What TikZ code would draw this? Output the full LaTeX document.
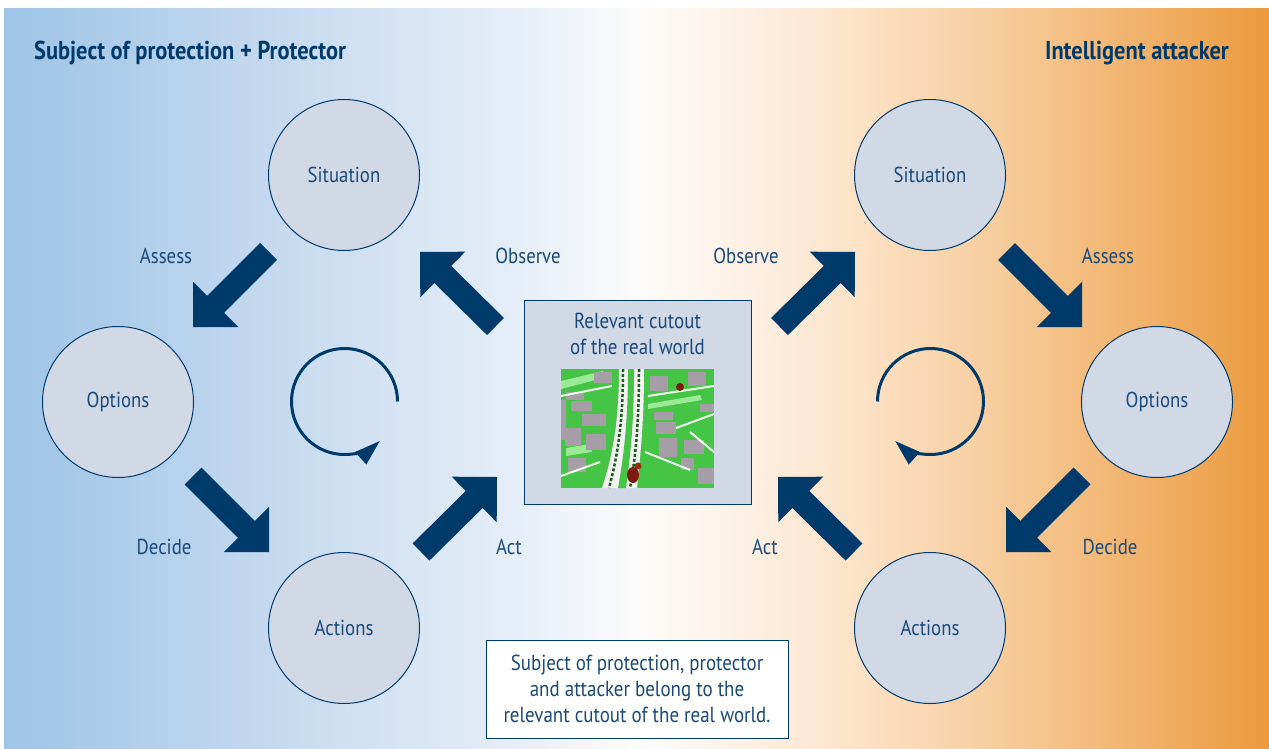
\documentclass[tikz,border=0pt]{standalone}
\usepackage{fontspec}
\setmainfont{PT Sans}[FakeStretch=0.87]
\usetikzlibrary{calc,arrows.meta}

\definecolor{navy}{HTML}{003A6B}
\definecolor{labelblue}{HTML}{1B4A7A}
\definecolor{discfill}{HTML}{D1D9E7}
% backdrop colour stops, blue on the left through white to orange on the right
\definecolor{bgA}{HTML}{9EC4E6}
\definecolor{bgB}{HTML}{C4D9EF}
\definecolor{bgC}{HTML}{D9E6F4}
\definecolor{bgD}{HTML}{E6EEF8}
\definecolor{bgE}{HTML}{FDFCFB}
\definecolor{bgF}{HTML}{FDEEE0}
\definecolor{bgG}{HTML}{FCE2C6}
\definecolor{bgH}{HTML}{F6CA98}
\definecolor{bgI}{HTML}{EC9A3D}
% map colours
\definecolor{mapgreen}{HTML}{45C445}
\definecolor{maplawn}{HTML}{9BEA95}
\definecolor{mapblock}{HTML}{A69EA6}
\definecolor{maptree}{HTML}{1E5C1E}
\definecolor{mapbrick}{HTML}{7E1A10}

\pgfdeclarehorizontalshading{backdrop}{100bp}{%
  color(0bp)=(bgA); color(25bp)=(bgA); color(35.5bp)=(bgB); color(41.4bp)=(bgC);
  color(45.4bp)=(bgD); color(50.1bp)=(bgE); color(54.9bp)=(bgF); color(58.8bp)=(bgG);
  color(64.8bp)=(bgH); color(75bp)=(bgI); color(100bp)=(bgI)}

% thick block arrow from #1 (tail) to #2 (tip)
\newcommand{\blockarrow}[2]{%
  \draw[navy, line width=24pt] (#1) -- ($(#2)!30pt!(#1)$);
  \fill[navy] (#2) -- ($(#2)!45.25pt!45:(#1)$) -- ($(#2)!45.25pt!-45:(#1)$) -- cycle;}

\begin{document}
\begin{tikzpicture}[x=1pt,y=-1pt,
  disc/.style={circle, draw=navy, line width=1pt, fill=discfill, minimum size=151pt,
    inner sep=0pt, text=labelblue, font=\fontsize{21.6}{25}\selectfont},
  lbl/.style={text=labelblue, inner sep=0pt, font=\fontsize{21.6}{25}\selectfont},
  headline/.style={text=navy, inner sep=0pt, font=\bfseries\fontsize{25.8}{30}\selectfont},
  boxtext/.style={text=labelblue, align=center, inner sep=0pt,
    font=\fontsize{21.8}{26}\selectfont},
  cycle arrow/.style={navy, line width=3pt, -{Triangle[length=26pt,width=16pt]}},
  maproad/.style={white!92!green, line width=2pt}]

\useasboundingbox (0,0) rectangle (1269,749);
\fill[white] (0,0) rectangle (1269,749);
\shade[shading=backdrop] (4,9) rectangle (1269,749);

% headings
\node[headline, anchor=base west] (titleL) at (34,60) {Subject of protection + Protector};
\node[headline, anchor=base east] (titleR) at (1229,60) {Intelligent attacker};

% protector cycle
\node[disc] (sitL) at (344,175) {Situation};
\node[disc] (optL) at (118,402) {Options};
\node[disc] (actL) at (344,628) {Actions};
% attacker cycle
\node[disc] (sitR) at (930,175) {Situation};
\node[disc] (optR) at (1157,402) {Options};
\node[disc] (actR) at (930,628) {Actions};

% real world cutout
\node[draw=navy, line width=1pt, fill=discfill, minimum width=227pt, minimum height=204pt,
  inner sep=0pt] (world) at (637.5,402) {};
\node[boxtext] (worldtxt) at (637.5,334) {Relevant cutout\\of the real world};

\begin{scope}
  \clip (561,369) rectangle (714,488);
  \fill[mapgreen] (561,369) rectangle (714,488);
  \fill[maplawn] (561,381) -- (603,371) -- (607,377) -- (561,389) -- cycle;
  \fill[maplawn] (648,404) -- (700,395) -- (702,400) -- (648,409) -- cycle;
  \fill[maplawn] (566,448) -- (590,444) -- (592,452) -- (566,456) -- cycle;
  \foreach \a/\b/\c/\d in {566/392/584/400, 571/401/592/411, 582/414/606/426,
      565/428/581/446, 586/434/606/450, 568/458/586/472, 594/372/612/383,
      650/376/668/391, 654/412/673/420, 656/422/676/434, 659/438/677/457,
      688/372/706/386, 684/440/704/454, 698/468/714/484, 681/458/694/470,
      561/400/566/440, 700/404/714/412} {
    \fill[mapblock] (\a,\b) rectangle (\c,\d);
  }
  \draw[maproad] (561,396) -- (612,386);
  \draw[maproad] (648,396) -- (714,386);
  \draw[maproad] (676,428) -- (714,414);
  \draw[maproad] (690,432) -- (714,452);
  \draw[maproad] (561,476) -- (600,462);
  \draw[maproad] (645,452) -- (690,470);
  % main avenue with two rows of trees
  \fill[white!90!gray] (619,369) .. controls (619,420) and (613,455) .. (602,488)
    -- (637,488) .. controls (641,450) and (644,420) .. (644,369) -- cycle;
  \fill[mapgreen] (628,369) .. controls (628,420) and (624,455) .. (618,488)
    -- (626,488) .. controls (631,450) and (634,420) .. (634,369) -- cycle;
  \draw[maptree, line width=2.5pt, dash pattern=on 3pt off 2pt]
    (623,369) .. controls (623,420) and (618,455) .. (609,488);
  \draw[maptree, line width=2.5pt, dash pattern=on 3pt off 2pt]
    (639,369) .. controls (639,420) and (636,455) .. (630,488);
  \fill[mapbrick] (680,387) circle (4);
  \fill[mapbrick!80!orange] (638,466) circle (3.5);
  \fill[mapbrick] (633,475) ellipse (6 and 8);
\end{scope}

% closing note
\node[draw=navy, line width=1pt, fill=white, minimum width=302pt, minimum height=98pt,
  boxtext] (note) at (637,689)
  {Subject of protection, protector\\and attacker belong to the\\relevant cutout of the real world.};

% arrow ends
\coordinate (assessL-s) at (268.5,251.5); \coordinate (assessL-e) at (193,327);
\coordinate (decideL-s) at (193,476);     \coordinate (decideL-e) at (269,552);
\coordinate (actL-s)    at (421,552);     \coordinate (actL-e)    at (497,477);
\coordinate (obsL-s)    at (495.5,326.5); \coordinate (obsL-e)    at (420,252);
\coordinate (obsR-s)    at (779.5,326.5); \coordinate (obsR-e)    at (855,252);
\coordinate (assessR-s) at (1006.5,251.5);\coordinate (assessR-e) at (1082,327);
\coordinate (decideR-s) at (1082,476);    \coordinate (decideR-e) at (1006,552);
\coordinate (actR-s)    at (854,552);     \coordinate (actR-e)    at (778,477);

\blockarrow{assessL-s}{assessL-e}
\blockarrow{decideL-s}{decideL-e}
\blockarrow{actL-s}{actL-e}
\blockarrow{obsL-s}{obsL-e}
\blockarrow{obsR-s}{obsR-e}
\blockarrow{assessR-s}{assessR-e}
\blockarrow{decideR-s}{decideR-e}
\blockarrow{actR-s}{actR-e}

% arrow labels
\node[lbl] (lAssessL)  at (166,256)  {Assess};
\node[lbl] (lObserveL) at (528,256)  {Observe};
\node[lbl] (lDecideL)  at (164,547)  {Decide};
\node[lbl] (lActL)     at (509,547)  {Act};
\node[lbl] (lObserveR) at (746,256)  {Observe};
\node[lbl] (lAssessR)  at (1108,256) {Assess};
\node[lbl] (lActR)     at (765,547)  {Act};
\node[lbl] (lDecideR)  at (1110,547) {Decide};

% rotation symbols
\coordinate (cycL) at (344.5,401.5);
\coordinate (cycR) at (930.5,401.5);
\draw[cycle arrow] ([shift={(0:53)}]cycL) arc[start angle=0, end angle=-312, radius=53];
\draw[cycle arrow] ([shift={(180:53)}]cycR) arc[start angle=180, end angle=492, radius=53];

\end{tikzpicture}
\end{document}
